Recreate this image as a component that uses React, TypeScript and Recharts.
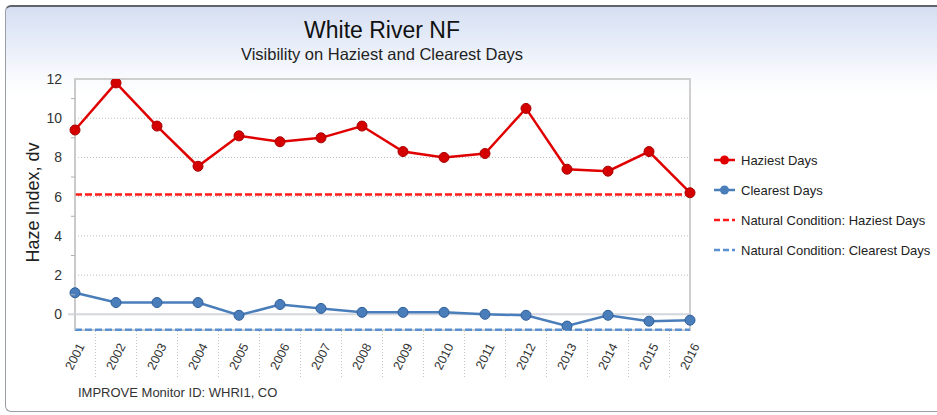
import React from 'react';
import { LineChart, Line, XAxis, YAxis, CartesianGrid, ReferenceLine, ReferenceArea } from 'recharts';

const years = ['2001','2002','2003','2004','2005','2006','2007','2008','2009','2010','2011','2012','2013','2014','2015','2016'];
const haziestDays = [9.4, 11.8, 9.6, 7.55, 9.1, 8.8, 9.0, 9.6, 8.3, 8.0, 8.2, 10.5, 7.4, 7.3, 8.3, 6.2];
const clearestDays = [1.1, 0.6, 0.6, 0.6, -0.05, 0.5, 0.3, 0.1, 0.1, 0.1, 0.0, -0.05, -0.6, -0.05, -0.35, -0.3];
const naturalHaziest = 6.11;
const naturalClearest = -0.79;
const yTicks = [0, 1, 2, 3, 4, 5, 6, 7, 8, 9, 10, 11, 12];
const yGridValues = [2, 4, 6, 8, 10, 12];
const yDomain = [-0.8, 12];

const title = 'White River NF';
const subtitle = 'Visibility on Haziest and Clearest Days';
const yLabel = 'Haze Index, dv';
const footnote = 'IMPROVE Monitor ID: WHRI1, CO';
const legendItems = [
  { name: 'Haziest Days', color: '#e00000', dash: false },
  { name: 'Clearest Days', color: '#4a7ebb', dash: false },
  { name: 'Natural Condition: Haziest Days', color: '#ff1a1a', dash: true },
  { name: 'Natural Condition: Clearest Days', color: '#5a8fd0', dash: true },
];

const data = years.map((y, i) => ({ year: y, haziest: haziestDays[i], clearest: clearestDays[i] }));

const FONT = '"Liberation Sans", Arial, Helvetica, sans-serif';
const W = 937;
const H = 415;
const PLOT_LEFT = 75;
const PLOT_RIGHT = 690;
const PLOT_TOP = 79;
const PLOT_BOTTOM = 330;
const STEP = (PLOT_RIGHT - PLOT_LEFT) / (years.length - 1);

const XTick = (props: any) => {
  const { payload, index } = props;
  const cx = payload.coordinate;
  return (
    <g>
      {index < years.length - 1 && (
        <line x1={cx + STEP / 2} x2={cx + STEP / 2} y1={PLOT_BOTTOM + 1} y2={377} stroke="#c4c4c4" strokeDasharray="1 2" />
      )}
      <text transform={`translate(${cx + 10},${346}) rotate(-63)`} textAnchor="end" fontSize={12.5} fill="#333" fontFamily={FONT}>
        {payload.value}
      </text>
    </g>
  );
};

const YTick = (props: any) => {
  const { payload } = props;
  const cy = payload.coordinate;
  const v = payload.value;
  if (v % 2 === 1) {
    return <line x1={PLOT_LEFT - 4} x2={PLOT_LEFT} y1={cy} y2={cy} stroke="#b0b0b0" strokeWidth={1} />;
  }
  return (
    <g>
      {v === 0 && <line x1={PLOT_LEFT - 7} x2={PLOT_LEFT} y1={cy} y2={cy} stroke="#d3d6dc" strokeWidth={2} />}
      <text x={62} y={cy + 5} textAnchor="end" fontSize={14} fill="#333" fontFamily={FONT}>{v}</text>
    </g>
  );
};

export default function App() {
  return (
    <div style={{ position: 'absolute', left: 0, top: 0, width: W, height: H, overflow: 'hidden', fontFamily: FONT }}>
      <div
        style={{
          position: 'absolute', left: 5, top: 5, width: W + 20, height: 407,
          borderTop: '2px solid #5f636a', borderLeft: '1.5px solid #9a9ea6', borderBottom: '1.5px solid #9a9ea6',
          borderRadius: 6,
          background: 'linear-gradient(to bottom, #d6dff2 0px, #e6ecf8 35px, #fbfcfe 75px, #ffffff 90px)',
          boxSizing: 'border-box',
        }}
      />
      <svg width={W} height={H} style={{ position: 'absolute', left: 0, top: 0 }}>
        <text x={382} y={37.5} textAnchor="middle" fontSize={23} fill="#111" fontFamily={FONT}>{title}</text>
        <text x={382} y={60} textAnchor="middle" fontSize={16.5} fill="#222" fontFamily={FONT}>{subtitle}</text>
        <text transform="translate(38.5,202.5) rotate(-90)" textAnchor="middle" fontSize={18} fill="#222" fontFamily={FONT}>{yLabel}</text>
        <text x={78} y={397} fontSize={13} fill="#333" fontFamily={FONT}>{footnote}</text>
        {legendItems.map((it, i) => {
          const cy = 160 + i * 30;
          return (
            <g key={it.name}>
              {it.dash ? (
                <line x1={714} x2={735} y1={cy} y2={cy} stroke={it.color} strokeWidth={2.5} strokeDasharray="6 3" />
              ) : (
                <g>
                  <line x1={714} x2={735} y1={cy} y2={cy} stroke={it.color} strokeWidth={2.5} />
                  <circle cx={724.5} cy={cy} r={4.5} fill={it.color} />
                </g>
              )}
              <text x={741} y={cy + 4.5} fontSize={13} fill="#222" fontFamily={FONT}>{it.name}</text>
            </g>
          );
        })}
      </svg>
      <div style={{ position: 'absolute', left: 0, top: 0 }}>
        <LineChart width={W} height={H} data={data} margin={{ top: PLOT_TOP, right: W - PLOT_RIGHT, bottom: H - PLOT_BOTTOM - 50, left: PLOT_LEFT - 60 }}>
          <ReferenceArea x1="2001" x2="2016" y1={yDomain[0]} y2={12} fill="#ffffff" fillOpacity={0} stroke="#cfcfcf" strokeWidth={2} ifOverflow="visible" />
          <CartesianGrid horizontal vertical={false} horizontalValues={yGridValues} stroke="#bdbdbd" strokeDasharray="1 2" />
          <XAxis dataKey="year" height={50} axisLine={false} tickLine={false} interval={0} tick={(p: any) => <XTick {...p} />} />
          <YAxis width={60} domain={yDomain} ticks={yTicks} interval={0} allowDataOverflow axisLine={{ stroke: '#c8c8c8', strokeWidth: 1.5 }} tickLine={false} tick={(p: any) => <YTick {...p} />} />
          <ReferenceLine y={0} stroke="#d3d6dc" strokeWidth={2} />
          <ReferenceLine y={naturalHaziest} stroke="#ff1a1a" strokeWidth={2.5} strokeDasharray="7 3" />
          <ReferenceLine y={naturalClearest} stroke="#5a8fd0" strokeWidth={2.5} strokeDasharray="7 3" />
          <Line type="linear" dataKey="clearest" name="Clearest Days" stroke="#4a7ebb" strokeWidth={2.5} isAnimationActive={false}
            dot={{ r: 5, fill: '#4a7ebb', stroke: '#2f5f9a', strokeWidth: 1 }} activeDot={false} />
          <Line type="linear" dataKey="haziest" name="Haziest Days" stroke="#e00000" strokeWidth={2.5} isAnimationActive={false}
            dot={{ r: 5, fill: '#d40000', stroke: '#a80000', strokeWidth: 1 }} activeDot={false} />
        </LineChart>
      </div>
    </div>
  );
}
